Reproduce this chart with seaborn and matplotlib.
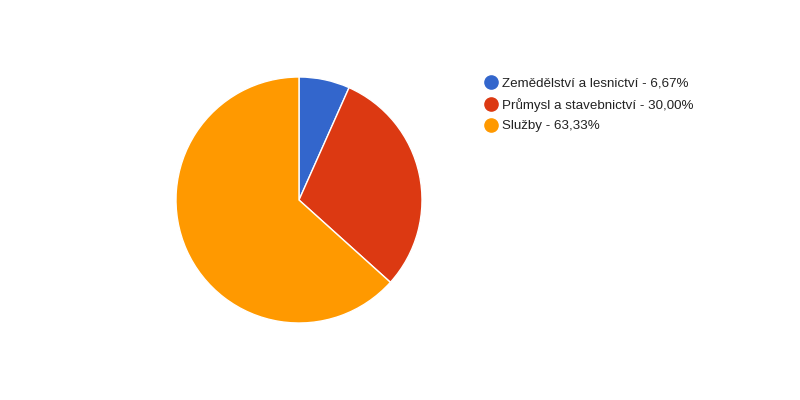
import matplotlib
matplotlib.use("Agg")
import matplotlib.pyplot as plt
from matplotlib.lines import Line2D
import seaborn as sns

#### data ####
categories = ["Zemědělství a lesnictví", "Průmysl a stavebnictví", "Služby"]
values = [6.67, 30.00, 63.33]
colors = ["#3366cc", "#dc3912", "#ff9900"]

sns.set_theme(style="white")
plt.rcParams['font.family'] = ['Liberation Sans', 'DejaVu Sans']

fig = plt.figure(figsize=(8, 4), dpi=100)
fig.patch.set_facecolor("white")

# pie centred at (299, 200) px, radius ~123 px
ax = fig.add_axes([(299 - 123) / 800, (200 - 123) / 400, 246 / 800, 246 / 400])
ax.pie(values, colors=sns.color_palette(colors), startangle=90, counterclock=False,
       radius=1, wedgeprops=dict(edgecolor="white", linewidth=1))
ax.set_xlim(-1, 1)
ax.set_ylim(-1, 1)
ax.set_aspect("equal")
ax.axis("off")

#### legend ####
for i, (lab, val, col) in enumerate(zip(categories, values, colors)):
    y = 1 - (82 + i * 21.5) / 400
    fig.add_artist(Line2D([490.5 / 800], [y], transform=fig.transFigure, marker="o",
                          markersize=9.5, color=col, linestyle="none"))
    txt = "{} - {:.2f}%".format(lab, val).replace(".", ",")
    fig.text(502 / 800, y - 1.5 / 400, txt, color="#222222", fontsize=9.6,
             ha="left", va="center")

fig.savefig("out.png", dpi=100, facecolor="white")
